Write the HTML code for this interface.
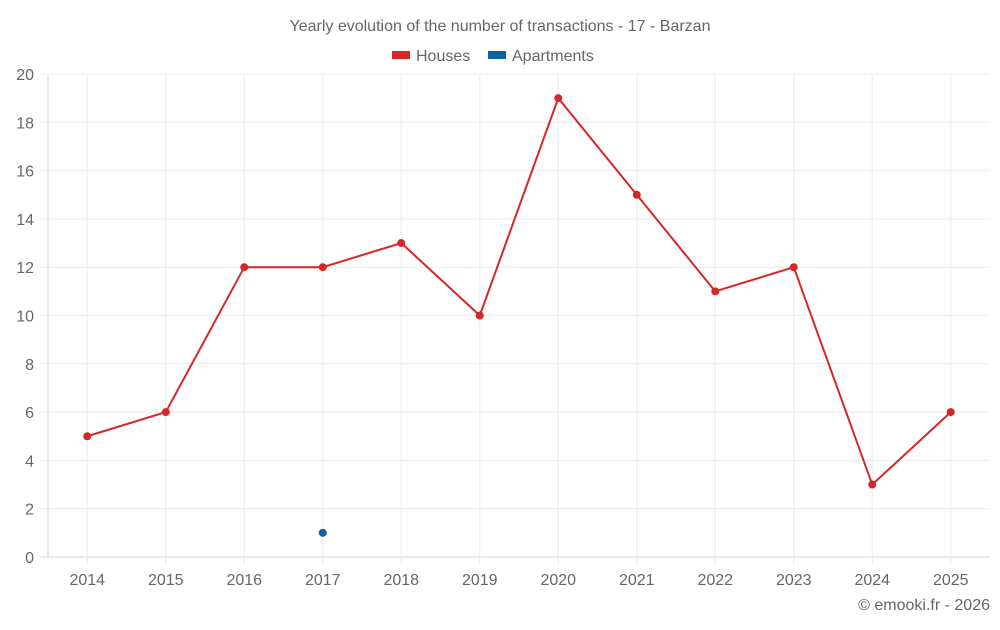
<!DOCTYPE html>
<html><head><meta charset="utf-8"><style>
body{margin:0;background:#fff;font-family:"Liberation Sans",sans-serif}
svg text{font-family:"Liberation Sans",sans-serif;fill:#666}
</style></head><body>
<svg id="c" width="1000" height="625">
<text x="500" y="31" text-anchor="middle" font-size="16">Yearly evolution of the number of transactions - 17 - Barzan</text>
<g>
<g><rect x="392" y="51" width="18" height="8" fill="#d62728"/><text x="416" y="61" font-size="16">Houses</text></g>
<g><rect x="488" y="51" width="18" height="8" fill="#0b64a0"/><text x="512" y="61" font-size="16">Apartments</text></g>
</g>
<g id="grid"></g>
<g id="marks"></g>
<text x="990" y="610" text-anchor="end" font-size="16">© emooki.fr - 2026</text>
</svg>
<script>
const years=["2014","2015","2016","2017","2018","2019","2020","2021","2022","2023","2024","2025"];
const houses=[5,6,12,12,13,10,19,15,11,12,3,6];
const apartments=[null,null,null,1,null,null,null,null,null,null,null,null];
const yTicks=[0,2,4,6,8,10,12,14,16,18,20];
const L=48,R=990,T=74,B=557,yMax=20;
const bw=(R-L)/years.length;
const x=i=>L+bw*(i+0.5);
const y=v=>B-(v/yMax)*(B-T);
const ns="http://www.w3.org/2000/svg";
const g=document.getElementById('grid'),m=document.getElementById('marks');
function mk(tag,a,p){const e=document.createElementNS(ns,tag);for(const k in a)e.setAttribute(k,a[k]);p.appendChild(e);return e;}
yTicks.forEach(t=>{
 const ln=mk('line',{x1:L-8,x2:R,y1:y(t),y2:y(t),stroke:t===0?'#d6d6d6':'#ececec','stroke-width':1},g);
 
 
 const tx=mk('text',{x:L-14,y:y(t)+6,'text-anchor':'end','font-size':16},g);tx.textContent=t;
 
 
});
const ax=mk('line',{x1:L,x2:L,y1:T,y2:B,stroke:'#d6d6d6'},g);


years.forEach((yr,i)=>{
 const ln=mk('line',{x1:x(i),x2:x(i),y1:T,y2:B+8,stroke:'#ececec'},g);
 
 
 const tx=mk('text',{x:x(i),y:B+28,'text-anchor':'middle','font-size':16},g);tx.textContent=yr;
 
 
});
function series(vals,color,name){
 let d='';vals.forEach((v,i)=>{if(v==null)return;d+=(d?'L':'M')+x(i)+' '+y(v);});
 const p=mk('path',{d:d,fill:'none',stroke:color,'stroke-width':2},m);
 
 
 vals.forEach((v,i)=>{if(v==null)return;
  const c=mk('circle',{cx:x(i),cy:y(v),r:4,fill:color},m);
  
  
 });
}
series(houses,'#d62728','houses');
series(apartments,'#0b64a0','apartments');
</script>
</body></html>
